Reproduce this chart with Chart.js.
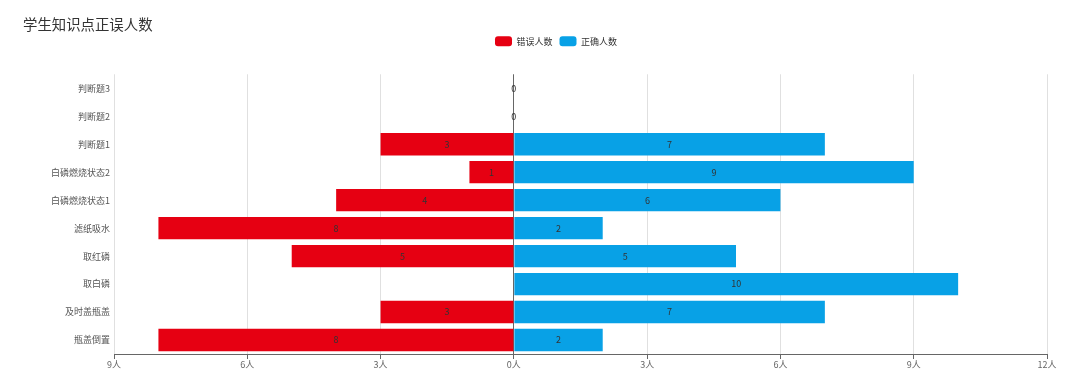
<!DOCTYPE html>
<html>
<head>
<meta charset="utf-8">
<script src="https://cdn.jsdelivr.net/npm/chart.js@4/dist/chart.umd.min.js"></script>
<style>
    html, body { margin: 0; padding: 0; background: #fff; }
    #box { width: 1080px; height: 389px; }
</style>
</head>
<body>
<div id="box"><canvas id="knowledge"></canvas></div>
<script>
// categorias de cima para baixo
var categories = ['判断题3', '判断题2', '判断题1', '白磷燃烧状态2', '白磷燃烧状态1', '滤纸吸水', '取红磷', '取白磷', '及时盖瓶盖', '瓶盖倒置'];
var wrongCount = [0, 0, 3, 1, 4, 8, 5, 0, 3, 8];
var rightCount = [0, 0, 7, 9, 6, 2, 5, 10, 7, 2];
var xTicks = [-9, -6, -3, 0, 3, 6, 9, 12];

var fontFamily = '"Noto Sans CJK SC", "Microsoft YaHei", sans-serif';

// erros ficam do lado esquerdo (negativo)
var wrongData = wrongCount.map(function (v) { return -v; });

/**
 * Espaço extra embaixo da legenda e legenda um pouco para a direita
 */
var legendGap = {
    id: 'legendGap',
    beforeInit: function (chart) {
        var fit = chart.legend.fit;
        chart.legend.fit = function () {
            fit.call(this);
            this.height += 18;
        };
    },
    afterLayout: function (chart) {
        chart.legend.left += 21;
        chart.legend.right += 21;
    }
};

/**
 * Escreve o valor no meio de cada barra
 */
var barLabels = {
    id: 'barLabels',
    afterDatasetsDraw: function (chart) {
        var ctx = chart.ctx;
        ctx.save();
        ctx.font = '9px ' + fontFamily;
        ctx.fillStyle = '#333';
        ctx.textAlign = 'center';
        ctx.textBaseline = 'middle';
        chart.data.datasets.forEach(function (ds, di) {
            var meta = chart.getDatasetMeta(di);
            meta.data.forEach(function (bar, i) {
                var v = Math.abs(ds.data[i]);
                var both = wrongCount[i] === 0 && rightCount[i] === 0;
                if (v === 0 && !(both && di === 1)) return;
                ctx.fillText(String(v), (bar.x + bar.base) / 2, bar.y);
            });
        });
        ctx.restore();
    }
};

new Chart(document.getElementById('knowledge'), {
    type: 'bar',
    data: {
        labels: categories,
        datasets: [{
            label: '错误人数',
            data: wrongData,
            backgroundColor: '#e60012',
            categoryPercentage: 0.8,
            barPercentage: 1
        }, {
            label: '正确人数',
            data: rightCount,
            backgroundColor: '#08a1e6',
            categoryPercentage: 0.8,
            barPercentage: 1
        }]
    },
    options: {
        indexAxis: 'y',
        responsive: true,
        maintainAspectRatio: false,
        animation: false,
        layout: { padding: { left: 23, right: 33, top: 0, bottom: 0 } },
        plugins: {
            title: {
                display: true,
                text: '学生知识点正误人数',
                align: 'start',
                color: '#333',
                font: { family: fontFamily, size: 14.4, weight: 'normal' },
                padding: { top: 16, bottom: -4 }
            },
            legend: {
                position: 'top',
                labels: {
                    boxWidth: 17,
                    boxHeight: 10,
                    useBorderRadius: true,
                    borderRadius: 3,
                    padding: 7,
                    color: '#333',
                    font: { family: fontFamily, size: 9 }
                }
            },
            tooltip: { enabled: false }
        },
        scales: {
            x: {
                stacked: true,
                min: -9,
                max: 12,
                afterBuildTicks: function (scale) {
                    scale.ticks = xTicks.map(function (v) { return { value: v }; });
                },
                afterFit: function (scale) { scale.height = 35; },
                grid: {
                    color: function (c) { return c.tick && c.tick.value === 0 ? '#666' : '#e0e0e0'; },
                    tickLength: 5,
                    tickColor: '#666'
                },
                border: { display: true, color: '#666' },
                ticks: {
                    color: '#666',
                    padding: 0,
                    font: { family: fontFamily, size: 9 },
                    callback: function (v) { return Math.abs(v) + '人'; }
                }
            },
            y: {
                stacked: true,
                afterFit: function (scale) { scale.width = 91; },
                grid: { display: false, drawTicks: false, tickLength: 0 },
                border: { display: false },
                ticks: {
                    color: '#555',
                    padding: 4,
                    font: { family: fontFamily, size: 9 }
                }
            }
        }
    },
    plugins: [legendGap, barLabels]
});
</script>
</body>
</html>
